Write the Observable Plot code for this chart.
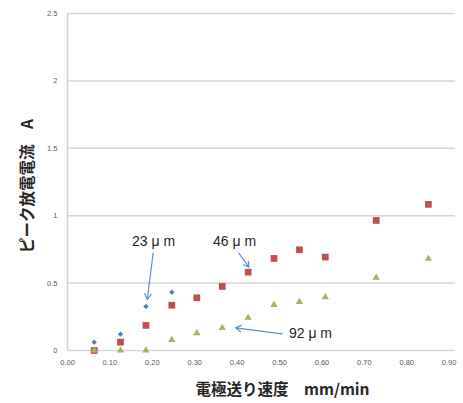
<!DOCTYPE html>
<html><head><meta charset="utf-8">
<script src="https://cdn.jsdelivr.net/npm/d3@7"></script>
<script src="https://cdn.jsdelivr.net/npm/@observablehq/plot@0.6"></script>
<style>html,body{margin:0;padding:0;background:#fff;}</style>
</head><body><div id="chart"></div>
<script>
const speeds = [0.063,0.125,0.185,0.246,0.305,0.365,0.426,0.487,0.547,0.608,0.728,0.851];
const current23 = [0.062,0.121,0.327,0.433];
const current46 = [0,0.062,0.186,0.336,0.391,0.475,0.581,0.683,0.747,0.693,0.965,1.084];
const current92 = [0,0,0,0.079,0.128,0.168,0.243,0.339,0.361,0.396,0.540,0.681];
const xTicks = [0,0.1,0.2,0.3,0.4,0.5,0.6,0.7,0.8,0.9];
const yTicks = [0,0.5,1,1.5,2,2.5];
const xTitle = "電極送り速度　mm/min";
const yTitle = "ピーク放電電流　A";
const labelText = ["23 μ m", "46 μ m", "92 μ m"];
const labelX = [0.203, 0.394, 0.573];
const labelY = [0.809, 0.809, 0.126];
const arrowFromX = [0.202, 0.404, 0.506];
const arrowFromY = [0.722, 0.722, 0.124];
const arrowToX = [0.188, 0.428, 0.396];
const arrowToY = [0.378, 0.618, 0.168];
const labels = labelText.map((t,i)=>({text:t, x:labelX[i], y:labelY[i], ax1:arrowFromX[i], ay1:arrowFromY[i], ax2:arrowToX[i], ay2:arrowToY[i]}));
const s23 = current23.map((v,i)=>({x:speeds[i], y:v}));
const s46 = current46.map((v,i)=>({x:speeds[i], y:v}));
const s92 = current92.map((v,i)=>({x:speeds[i], y:v}));
const tickFont = "Liberation Sans, Arial, sans-serif";
const jp = "Noto Sans CJK JP, sans-serif";
const chart = Plot.plot({
  width: 463, height: 403,
  marginLeft: 67, marginRight: 8, marginTop: 13, marginBottom: 53,
  style: {fontFamily: tickFont, background: "#fff"},
  x: {domain:[0,0.915], ticks: xTicks, tickFormat: d3.format(".2f"), tickSize: 0, tickPadding: 9, label: null},
  y: {domain:[0,2.5], ticks: yTicks, tickFormat: d => String(d), tickSize: 0, tickPadding: 10, label: null},
  marks: [
    Plot.ruleY(yTicks, {stroke:"#d6d6d6", strokeWidth:1.5}),
    Plot.ruleX([0], {stroke:"#d0d0d0", strokeWidth:1.5}),
    Plot.axisX({ticks: xTicks, tickFormat: d3.format(".2f"), tickSize:0, tickPadding:9, fontSize:7.5, fill:"#595959", label:null}),
    Plot.axisY({ticks: yTicks, tickFormat: d => String(d), tickSize:0, tickPadding:10, fontSize:7.5, fill:"#595959", label:null}),
    Plot.dot(s23, {x:"x", y:"y", symbol:"diamond2", r:2.4, fill:"#4a7ebb", stroke:"none"}),
    Plot.dot(s46, {x:"x", y:"y", symbol:"square", r:3.8, fill:"#c0504d"}),
    Plot.dot(s92, {x:"x", y:"y", symbol:"triangle", r:2.7, fill:"#9bbb59"}),
    Plot.arrow(labels, {x1:"ax1", y1:"ay1", x2:"ax2", y2:"ay2", stroke:"#5d8fd0", strokeWidth:1.2, headLength:8, bend:0}),
    Plot.text(labels, {x:"x", y:"y", text:"text", textAnchor:"middle", fontSize:14, fontFamily:"Liberation Sans, Arial, sans-serif", fill:"#262626"}),
    Plot.text([yTitle], {frameAnchor:"left", textAnchor:"middle", dx:-39, dy:4, rotate:-90, fontSize:15.5, fontWeight:"bold", fontFamily:jp, fill:"#262626", text: d=>d}),
    Plot.text([xTitle], {frameAnchor:"bottom", textAnchor:"middle", lineAnchor:"middle", dx:21, dy:40, fontSize:15.5, fontWeight:"bold", fontFamily:jp, fill:"#262626", text: d=>d})
  ]
});
document.getElementById("chart").appendChild(chart);
</script>
</body></html>
